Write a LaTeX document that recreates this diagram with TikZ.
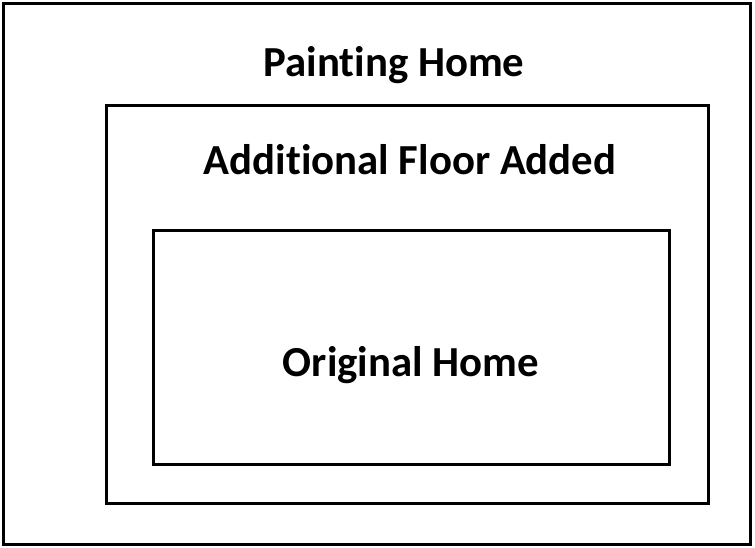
\documentclass[tikz,border=0pt]{standalone}
\usepackage{fontspec}
\setmainfont[Ligatures={NoCommon}]{Carlito}
\begin{document}
\begin{tikzpicture}[x=1pt,y=-1pt,
  box/.style={draw=black,line width=3pt,fill=none},
  lbl/.style={font=\fontsize{42.8}{48}\selectfont\bfseries,inner sep=0pt,anchor=base}]
\useasboundingbox (0,0) rectangle (755,548);
\node[box,minimum width=747pt,minimum height=540pt,inner sep=0pt] (outer) at (376.5,274) {};
\node[box,minimum width=602pt,minimum height=397pt,inner sep=0pt] (middle) at (407,304.5) {};
\node[box,minimum width=516pt,minimum height=233pt,inner sep=0pt] (inner) at (411.5,347.5) {};
\node[lbl] (t1) at (394,77) {Painting Home};
\node[lbl] (t2) at (410,175) {Additional Floor Added};
\node[lbl] (t3) at (411,376) {Original Home};
\end{tikzpicture}
\end{document}
